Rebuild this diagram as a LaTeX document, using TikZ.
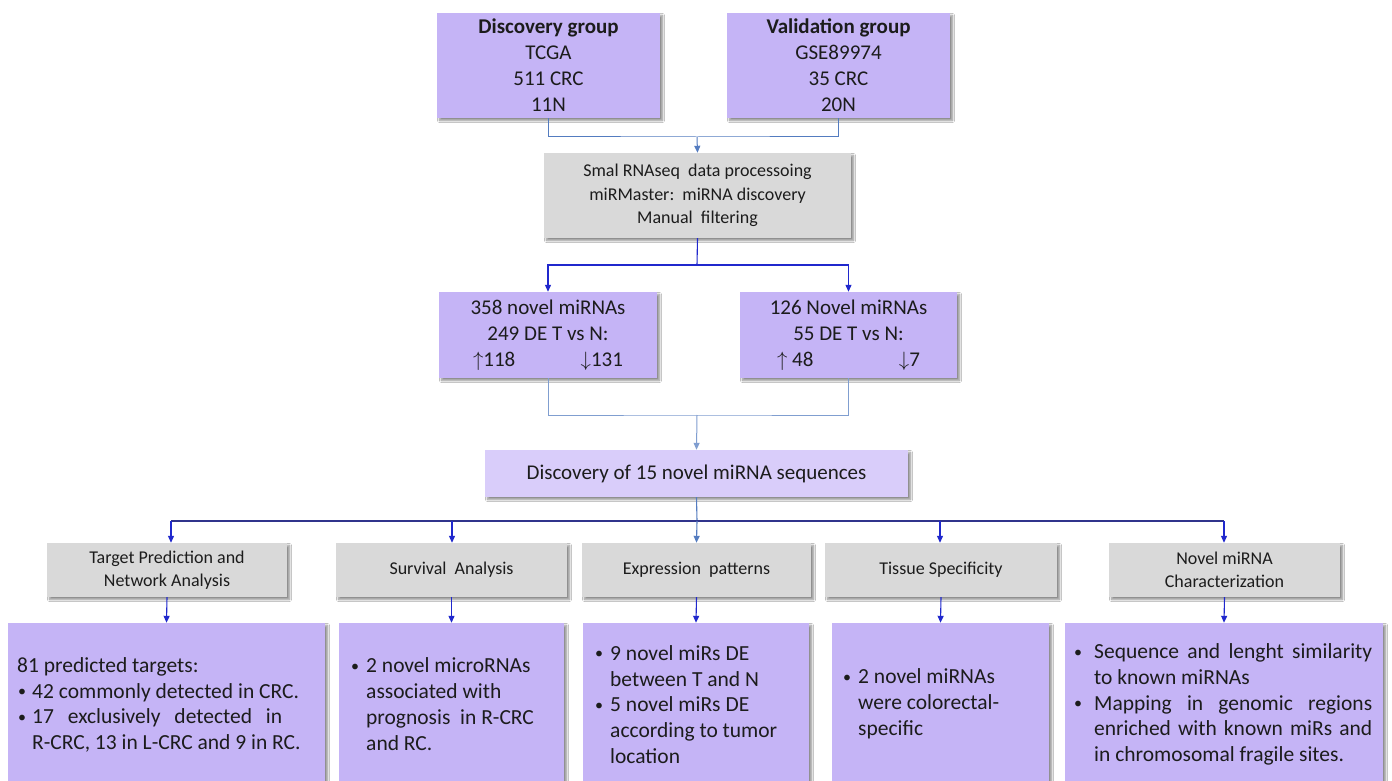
\documentclass[tikz,border=0pt]{standalone}
\usepackage{fontspec}
\setmainfont{Carlito}
\usetikzlibrary{arrows.meta,shadows.blur}
\definecolor{purp}{RGB}{197,180,246}
\definecolor{lpurp}{RGB}{217,205,250}
\definecolor{gbox}{RGB}{217,217,217}
\definecolor{txt}{RGB}{28,28,28}
\definecolor{steel}{RGB}{84,124,192}
\definecolor{lsteel}{RGB}{128,158,208}
\definecolor{dblue}{RGB}{32,40,205}
\definecolor{navy}{RGB}{48,52,140}
\newcommand{\bdot}{\raisebox{1.5pt}{\fontsize{16}{16}\selectfont •}}
\newcommand{\bul}{\makebox[16pt][l]{\hspace*{1pt}\bdot}}
\newcommand{\bulw}{\makebox[21pt][l]{\hspace*{1pt}\bdot}}
\newcommand{\buln}{\makebox[15pt][l]{\hspace*{1pt}\bdot}}
\newcommand{\ind}{\hspace*{16pt}}
\newcommand{\indw}{\hspace*{21pt}}
\newcommand{\indn}{\hspace*{15pt}}
\begin{document}
\begin{tikzpicture}[x=1pt,y=-1pt,
  box/.style={draw=none, rectangle, inner sep=0pt, align=center, text=txt,
    blur shadow={shadow xshift=2.5pt, shadow yshift=-2.5pt, shadow blur steps=6, shadow opacity=45, shadow blur radius=2pt}},
  pbox/.style={box, fill=purp},
  gbx/.style={box, fill=gbox, font={\fontsize{18}{23}\selectfont}},
  big/.style={font={\fontsize{21}{26}\selectfont}},
  btxt/.style={anchor=west, inner sep=0pt, align=left, text=txt, font={\fontsize{21.5}{25.8}\selectfont}},
  tip/.style={-{Triangle[length=7pt,width=6pt]}},
  tline/.style={draw=steel, line width=1pt},
  bline/.style={draw=dblue, line width=1.1pt},
  lline/.style={draw=lsteel, line width=1pt},
  nline/.style={draw=navy, line width=1.1pt}
]
\useasboundingbox (0,0) rectangle (1392,781);
\fill[white] (0,0) rectangle (1392,781);

% top boxes
\node[pbox, big, minimum width=223pt, minimum height=105pt] (disc) at (548.5,65.5)
  {\textbf{Discovery group}\\TCGA\\511 CRC\\11N};
\node[pbox, big, minimum width=223pt, minimum height=105pt] (val) at (838.5,65.5)
  {\textbf{Validation group}\\GSE89974\\35 CRC\\20N};
\node[gbx, font={\fontsize{18}{23.5}\selectfont}, minimum width=307pt, minimum height=85pt] (proc) at (697.5,195.5)
  {Smal RNAseq\ \ data processoing\\miRMaster:\ \ miRNA discovery\\Manual\ \ filtering};

% middle boxes
\node[pbox, big, minimum width=218pt, minimum height=86pt] (m1) at (548,335)
  {358 novel miRNAs\\249 DE T vs N:\\\makebox[150pt][s]{$\uparrow$118\hfill$\downarrow$131}};
\node[pbox, big, minimum width=217pt, minimum height=86pt] (m2) at (848.5,335)
  {126 Novel miRNAs\\55 DE T vs N:\\\makebox[143pt][s]{$\uparrow$ 48\hfill$\downarrow$7}};
\node[box, fill=lpurp, big, minimum width=423pt, minimum height=47pt] (d15) at (696.5,473.5)
  {Discovery of 15 novel miRNA sequences};

% gray analysis boxes
\node[gbx, minimum width=240pt, minimum height=54pt] (g1) at (167,570) {Target Prediction and\\Network Analysis};
\node[gbx, minimum width=231pt, minimum height=54pt] (g2) at (451.5,570) {Survival\ \ Analysis};
\node[gbx, minimum width=229pt, minimum height=54pt] (g3) at (696.5,570) {Expression\ \ patterns};
\node[gbx, minimum width=232pt, minimum height=54pt] (g4) at (941,570) {Tissue Specificity};
\node[gbx, minimum width=231pt, minimum height=54pt] (g5) at (1224.5,570) {Novel miRNA\\Characterization};

% bottom result boxes
\node[pbox, minimum width=317pt, minimum height=172pt] (p1) at (166.5,709) {};
\node[pbox, minimum width=225pt, minimum height=172pt] (p2) at (451.5,709) {};
\node[pbox, minimum width=226pt, minimum height=172pt] (p3) at (696,709) {};
\node[pbox, minimum width=217pt, minimum height=172pt] (p4) at (940.5,709) {};
\node[pbox, minimum width=318pt, minimum height=172pt] (p5) at (1224,709) {};

\node[btxt] (t1) at (17,705) {81 predicted targets:\\
  \buln 42 commonly detected in CRC.\\
  \buln\makebox[250pt][s]{17 exclusively detected in}\\
  \indn R-CRC, 13 in L-CRC and 9 in RC.};
\node[btxt] (t2) at (350,704) {\bul 2 novel microRNAs\\
  \ind associated with\\
  \ind prognosis\ \ in R-CRC\\
  \ind and RC.};
\node[btxt] (t3) at (594,704.5) {\bul 9 novel miRs DE\\
  \ind between T and N\\
  \bul 5 novel miRs DE\\
  \ind according to tumor\\
  \ind location};
\node[btxt] (t4) at (842,704) {\bul 2 novel miRNAs\\
  \ind were colorectal-\\
  \ind specific};
\node[btxt] (t5) at (1073,704.5) {\bulw\makebox[278pt][s]{Sequence and lenght similarity}\\
  \indw to known miRNAs\\
  \bulw\makebox[278pt][s]{Mapping in genomic regions}\\
  \indw\makebox[278pt][s]{enriched with known miRs and}\\
  \indw in chromosomal fragile sites.};

% connectors
\coordinate (j1) at (697,137);
\coordinate (j2) at (697,265);
\coordinate (j3) at (697,415);
\coordinate (j4) at (697,521);
\coordinate (h1) at (171,521);
\coordinate (h2) at (452,521);
\coordinate (h4) at (940,521);
\coordinate (h5) at (1224,521);

\draw[tline] (disc.south) |- (j1) -| (val.south);
\draw[tline, tip] (j1) -- (proc.north);

\draw[bline] (proc.south) -- (j2);
\draw[bline, tip] (j2) -| (m1.north);
\draw[bline, tip] (j2) -| (m2.north);

\draw[lline] (m1.south) |- (j3) -| (m2.south);
\draw[lline, tip] (j3) -- (d15.north);

\draw[draw=steel, line width=1.1pt] (d15.south) -- (j4);
\draw[nline] (h1) -- (h5);
\draw[bline, tip] (h1) -- (h1 |- g1.north);
\draw[bline, tip] (h2) -- (h2 |- g2.north);
\draw[tline, line width=1.1pt, tip] (j4) -- (g3.north);
\draw[bline, tip] (h4) -- (h4 |- g4.north);
\draw[bline, tip] (h5) -- (h5 |- g5.north);

\draw[bline, tip] (g1.south) -- (p1.north);
\draw[bline, tip] (g2.south) -- (p2.north);
\draw[bline, tip] (g3.south) -- (p3.north);
\draw[bline, tip] (g4.south) -- (p4.north);
\draw[bline, tip] (g5.south) -- (p5.north);
\end{tikzpicture}
\end{document}
